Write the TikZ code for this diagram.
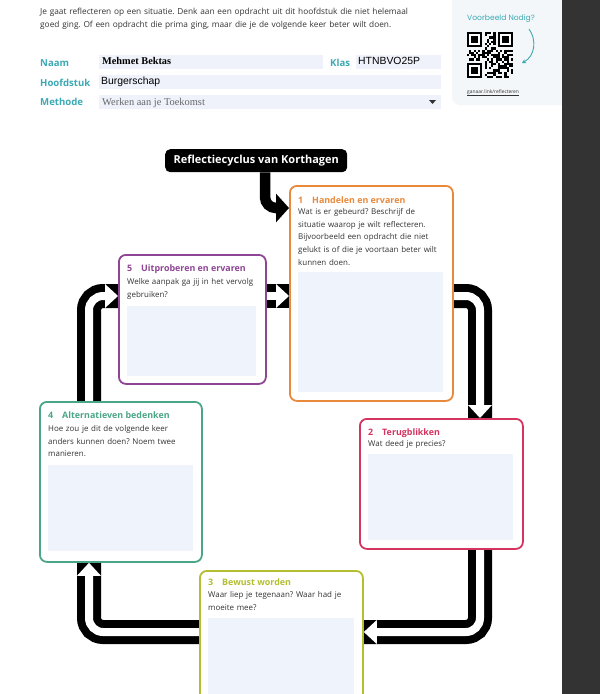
\documentclass[tikz,border=0pt]{standalone}
\usepackage{fontspec}
\setmainfont{Open Sans}
\newfontfamily\tnrfont{Liberation Serif}
\newfontfamily\arialfont{Liberation Sans}
\newfontfamily\handfont{Poppins}
\usetikzlibrary{arrows.meta,calc}
\pgfdeclarelayer{bg}
\pgfsetlayers{bg,main}
\definecolor{cOrange}{HTML}{E8893B}
\definecolor{cPurple}{HTML}{8E4594}
\definecolor{cGreen}{HTML}{4BA685}
\definecolor{cRed}{HTML}{D53461}
\definecolor{cOlive}{HTML}{B4BE2F}
\definecolor{innerFill}{HTML}{EEF3FC}
\definecolor{fieldFill}{HTML}{EFF2FB}
\definecolor{tealLbl}{HTML}{3BA9B4}
\definecolor{bodyGray}{HTML}{333333}
\definecolor{panelFill}{HTML}{F4F7F9}
\definecolor{darkBand}{HTML}{333333}
\frenchspacing
\begin{document}
\begin{tikzpicture}[x=1pt,y=-1pt,
 cbox/.style={draw=#1, line width=1.8pt, rounded corners=7pt, fill=white, anchor=north west, inner sep=0pt},
 conn/.style={draw=black, line width=8pt, double=white, double distance=8pt, rounded corners=14pt},
 bodyt/.style={anchor=base west, inner sep=0pt, text width=160pt, align=left, font=\fontsize{7.95}{12.7}\selectfont, text=bodyGray},
 ttl/.style={anchor=base west, inner sep=0pt, font=\bfseries\fontsize{8.9}{10}\selectfont, text=#1},
 lbl/.style={anchor=base west, inner sep=0pt, font=\bfseries\fontsize{9.6}{12}\selectfont, text=tealLbl},
 field/.style={fill=fieldFill, anchor=north west, inner sep=0pt},
 fieldtxt/.style={anchor=base west, inner sep=0pt},
 ahead/.pic={\fill[black] (-13,-12) rectangle (0,12); \fill[white] (-13,-12) -- (0,0) -- (-13,12) -- cycle;},
 qrfind/.pic={\fill (0,0) rectangle (15.4,15.4); \fill[white] (2.2,2.2) rectangle (13.2,13.2); \fill (4.4,4.4) rectangle (11,11);}
]
\useasboundingbox (0,0) rectangle (600,694);
\clip (0,0) rectangle (600,694);
\begin{pgfonlayer}{bg}
\fill[white] (0,0) rectangle (600,694);
\fill[panelFill, rounded corners=8pt] (452,-20) -- (452,105) -- (580,105) -- (580,-20) -- cycle;
\end{pgfonlayer}
\fill[darkBand] (562,0) rectangle (600,694);

% intro text
\node[anchor=base west, inner sep=0pt, text width=440pt, align=left, font=\fontsize{8.3}{13}\selectfont, text=bodyGray] (intro) at (40,14)
 {Je gaat reflecteren op een situatie. Denk aan een opdracht uit dit hoofdstuk die niet helemaal\\goed ging. Of een opdracht die prima ging, maar die je de volgende keer beter wilt doen.};

% form
\node[field, minimum width=224pt, minimum height=13.5pt] (fnaam) at (99,55) {};
\node[field, minimum width=85pt, minimum height=13.5pt] (fklas) at (356,55) {};
\node[field, minimum width=342pt, minimum height=13.5pt] (fhfd) at (99,75) {};
\node[field, minimum width=342pt, minimum height=13.5pt] (fmeth) at (99,95) {};
\node[lbl] (lnaam) at (40,66) {Naam};
\node[lbl] (lklas) at (330,66) {Klas};
\node[lbl] (lhfd) at (40,86) {Hoofdstuk};
\node[lbl] (lmeth) at (40,105) {Methode};
\node[fieldtxt, font=\tnrfont\bfseries\fontsize{10.3}{12}\selectfont] (vnaam) at (102,64.5) {Mehmet Bektas};
\node[fieldtxt, font=\arialfont\fontsize{10.4}{12}\selectfont] (vklas) at (358,64) {HTNBVO25P};
\node[fieldtxt, font=\arialfont\fontsize{10.4}{12}\selectfont] (vhfd) at (101,84) {Burgerschap};
\node[fieldtxt, font=\tnrfont\fontsize{10.4}{12}\selectfont, text=black!60] (vmeth) at (102,105) {Werken aan je Toekomst};
\fill[darkBand] (429,100) -- (436,100) -- (432.5,104) -- cycle;

% panel
\node[fieldtxt, font=\handfont\fontsize{7.6}{8}\selectfont, text=tealLbl] (vb) at (467,20) {Voorbeeld Nodig?};
\begin{scope}[shift={(467,32)}]
 \pgfmathsetseed{12345}
 \foreach \i in {0,...,20}{
  \foreach \j in {0,...,20}{
   \pgfmathtruncatemacro\infind{((\i<8)&&(\j<8))||((\i>12)&&(\j<8))||((\i<8)&&(\j>12))}
   \pgfmathsetmacro\rv{rnd}
   \ifnum\infind=0
     \ifdim\rv pt<0.5pt \fill (\i*2.2,\j*2.2) rectangle ++(2.2,2.2); \fi
   \fi
  }}
 \pic at (0,0) {qrfind};
 \pic at (30.8,0) {qrfind};
 \pic at (0,30.8) {qrfind};
\end{scope}
\coordinate (qa) at (529,29);
\coordinate (qb) at (522,63);
\draw[tealLbl, line width=0.9pt, -{Stealth[length=4pt,width=4.5pt]}] (qa) .. controls (537,40) and (535,56) .. (qb);
\node[fieldtxt, font=\fontsize{4.9}{6}\selectfont, text=bodyGray] (link) at (467,93) {ganaar.link/reflecteren};
\draw[bodyGray, line width=0.4pt] ($(link.base west)+(0,2)$) -- ($(link.base east)+(0,2)$);

% title
\node[fill=black, rounded corners=5pt, minimum width=182pt, minimum height=23pt, inner sep=0pt, text=white, font=\bfseries\fontsize{11}{12}\selectfont, anchor=north west] (title) at (165,149) {Reflectiecyclus van Korthagen};

% boxes
\node[cbox=cOrange, minimum width=163pt, minimum height=215pt] (b1) at (289,185) {};
\node[cbox=cPurple, minimum width=147pt, minimum height=129pt] (b5) at (118,254) {};
\node[cbox=cGreen, minimum width=162pt, minimum height=160pt] (b4) at (39,401) {};
\node[cbox=cRed, minimum width=163pt, minimum height=130pt] (b2) at (359,418) {};
\node[cbox=cOlive, minimum width=163pt, minimum height=150pt] (b3) at (199,570) {};

\fill[innerFill] (298,272) rectangle (443,392);
\fill[innerFill] (127,306) rectangle (256,376);
\fill[innerFill] (48,465) rectangle (193,551);
\fill[innerFill] (368,454) rectangle (513,540);
\fill[innerFill] (208,618) rectangle (354,710);

% box texts
\node[ttl=cOrange] (n1) at (298,203) {1};
\node[ttl=cOrange] (h1) at (312,203) {Handelen en ervaren};
\node[bodyt] (d1) at (298,214.5) {Wat is er gebeurd? Beschrijf de\\situatie waarop je wilt reflecteren.\\Bijvoorbeeld een opdracht die niet\\gelukt is of die je voortaan beter wilt\\kunnen doen.};
\node[ttl=cPurple] (n5) at (127,271.5) {5};
\node[ttl=cPurple] (h5) at (141,271.5) {Uitproberen en ervaren};
\node[bodyt] (d5) at (127,284.5) {Welke aanpak ga jij in het vervolg\\gebruiken?};
\node[ttl=cGreen] (n4) at (48,418.5) {4};
\node[ttl=cGreen] (h4) at (62,418.5) {Alternatieven bedenken};
\node[bodyt] (d4) at (48,431.5) {Hoe zou je dit de volgende keer\\anders kunnen doen? Noem twee\\manieren.};
\node[ttl=cRed] (n2) at (368,435.5) {2};
\node[ttl=cRed] (h2) at (382,435.5) {Terugblikken};
\node[bodyt] (d2) at (368,446.5) {Wat deed je precies?};
\node[ttl=cOlive] (n3) at (208,585.5) {3};
\node[ttl=cOlive] (h3) at (222,585.5) {Bewust worden};
\node[bodyt] (d3) at (208,597.5) {Waar liep je tegenaan? Waar had je\\moeite mee?};

% connectors
\begin{pgfonlayer}{bg}
\draw[conn] (b1.east |- 0,296) -- (480,296) -- (b2.north -| 480,0);
\draw[conn] (b2.south -| 480,0) -- (480,632) -- (b3.east |- 0,632);
\draw[conn] (b3.west |- 0,632) -- (89,632) -- (b4.south -| 89,0);
\draw[conn] (b4.north -| 89,0) -- (89,296) -- (b5.west |- 0,296);
\draw[conn] (b5.east |- 0,296) -- (b1.west |- 0,296);
\end{pgfonlayer}
\pic[rotate=-90] at (b2.north -| 480,0) {ahead};
\pic[rotate=180] at (b3.east |- 0,632) {ahead};
\pic[rotate=90] at (b4.south -| 89,0) {ahead};
\pic at (b5.west |- 0,296) {ahead};
\pic at (b1.west |- 0,296) {ahead};

\draw[line width=10.5pt, rounded corners=11pt, -{Triangle[length=13pt,width=28pt]}] (265,0 |- title.south) -- (265,208) -- (b1.west |- 0,208);
\end{tikzpicture}
\end{document}
